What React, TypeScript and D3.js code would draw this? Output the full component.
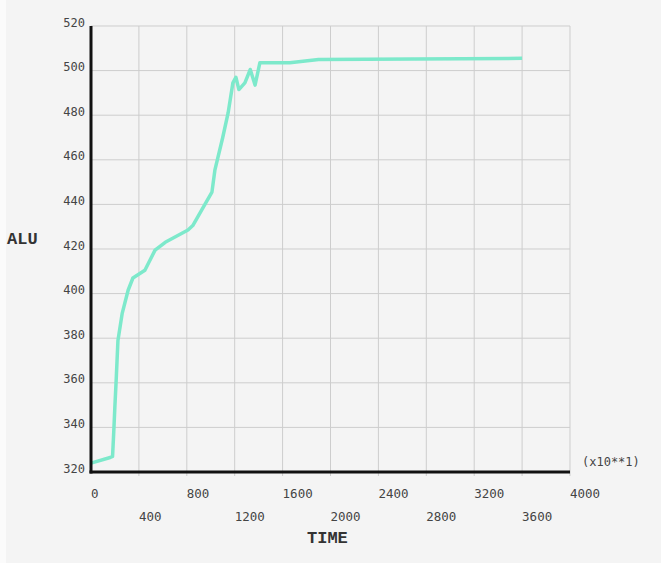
import React from "react";
import * as d3 from "d3";

const times = [0, 160, 180, 190, 200, 210, 225, 260, 310, 350, 450, 535, 620, 810, 850, 925, 1010, 1035, 1100, 1145, 1185, 1210, 1235, 1285, 1330, 1370, 1410, 1660, 1900, 3600];
const alu = [324, 326.5, 327, 338, 350, 361, 379, 391, 401.5, 407, 410.5, 419.5, 423, 428.5, 430.5, 437.5, 445.5, 455.5, 470, 481, 494.5, 497, 491.5, 494.5, 500.5, 493.5, 503.5, 503.5, 505, 505.5];
const xTicks = [0, 400, 800, 1200, 1600, 2000, 2400, 2800, 3200, 3600, 4000];
const yTicks = [320, 340, 360, 380, 400, 420, 440, 460, 480, 500, 520];

const W = 661;
const H = 563;
const left = 91;
const right = 570;
const top = 26;
const bottom = 472;

export default function App() {
  const x = d3.scaleLinear().domain([0, 4000]).range([left, right]);
  const y = d3.scaleLinear().domain([320, 520]).range([bottom, top]);
  const pts: [number, number][] = times.map((t, i) => [t, alu[i]]);
  const line = d3
    .line<[number, number]>()
    .x((d) => x(d[0]))
    .y((d) => y(d[1]));
  const tickFont = "'DejaVu Sans Mono', monospace";
  const titleFont = "'Liberation Mono', 'Courier New', monospace";
  return (
    <svg
      width={W}
      height={H}
      style={{ position: "fixed", top: 0, left: 0 }}
      xmlns="http://www.w3.org/2000/svg"
    >
      <rect x={0} y={0} width={W} height={H} fill="#f4f4f4" />
      <rect x={0} y={0} width={6} height={H} fill="#fbfbfb" />
      {yTicks.slice(1).map((v) => (
        <line key={"gy" + v} x1={left} x2={right} y1={y(v)} y2={y(v)} stroke="#cdcdcd" strokeWidth={1} />
      ))}
      {xTicks.slice(1).map((v) => (
        <line key={"gx" + v} x1={x(v)} x2={x(v)} y1={top} y2={bottom + 4} stroke="#cdcdcd" strokeWidth={1} />
      ))}
      <path d={line(pts) || ""} fill="none" stroke="#7de9cb" strokeWidth={3.5} strokeLinejoin="round" />
      <line x1={left} x2={left} y1={top} y2={bottom + 1.5} stroke="#111" strokeWidth={3} />
      <line x1={left - 1.5} x2={right} y1={bottom} y2={bottom} stroke="#111" strokeWidth={3} />
      {yTicks.map((v) => (
        <text
          key={"ty" + v}
          x={left - 6}
          y={y(v) - 3}
          textAnchor="end"
          dominantBaseline="middle"
          fontFamily={tickFont}
          fontSize={12}
          fill="#444"
        >
          {v}
        </text>
      ))}
      {xTicks.map((v, i) => (
        <text
          key={"tx" + v}
          x={x(v)}
          y={i % 2 === 0 ? 498 : 521}
          textAnchor="start"
          fontFamily={tickFont}
          fontSize={12.5}
          fill="#444"
        >
          {v}
        </text>
      ))}
      <text x={582} y={466} fontFamily={tickFont} fontSize={12} fill="#444">
        (x10**1)
      </text>
      <text x={307} y={543} fontFamily={titleFont} fontSize={17} fontWeight="bold" fill="#333">
        TIME
      </text>
      <text x={7} y={244} fontFamily={titleFont} fontSize={17} fontWeight="bold" fill="#333">
        ALU
      </text>
    </svg>
  );
}
